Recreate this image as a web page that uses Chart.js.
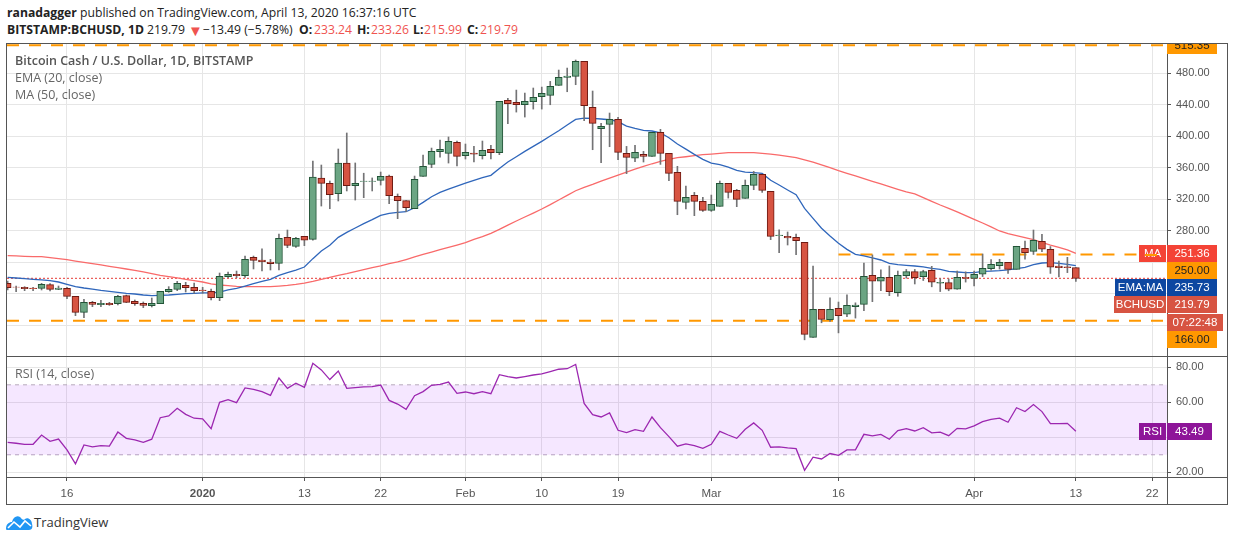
<!DOCTYPE html>
<html>
<head>
<meta charset="utf-8">
<title>BCHUSD</title>
<script src="https://cdn.jsdelivr.net/npm/chart.js@4/dist/chart.umd.min.js"></script>
<style>
  html, body { margin: 0; padding: 0; background: #fff; width: 1234px; height: 541px; overflow: hidden; }
  body { position: relative; font-family: "Open Sans", sans-serif; color: #131722; }
  canvas { position: absolute; }
  .abs { position: absolute; white-space: nowrap; }
  .head { font-size: 12.2px; line-height: 16px; color: #222; }
  .head b { font-weight: 700; }
  .red { color: #ef5350; }
  .frame { left: 6px; top: 43px; width: 1220px; height: 460px; border: 1px solid #555; }
  .rule { background: #555; }
  .pane-text { left: 15px; font-size: 12.5px; line-height: 16px; color: #666; }
  .tag { font-family: "Liberation Sans", Arial, sans-serif; font-size: 11.5px; line-height: 17px; height: 17px; text-align: center; overflow: hidden; color: #fff; }
</style>
</head>
<body>

<div class="abs head" style="left:7px;top:5px"><b>ranadagger</b> published on TradingView.com, April 13, 2020 16:37:16 UTC</div>
<div class="abs head" style="left:7px;top:22px"><b>BITSTAMP:BCHUSD, 1D</b></div>
<div class="abs head" style="left:147px;top:22px">219.79</div>
<div class="abs head red" style="left:188px;top:22px;font-size:15px">▼</div>
<div class="abs head" style="left:203px;top:22px">−13.49 (−5.78%)</div>
<div class="abs head" style="left:299px;top:22px"><b>O:</b></div>
<div class="abs head red" style="left:314px;top:22px">233.24</div>
<div class="abs head" style="left:357px;top:22px"><b>H:</b></div>
<div class="abs head red" style="left:371px;top:22px">233.26</div>
<div class="abs head" style="left:413px;top:22px"><b>L:</b></div>
<div class="abs head red" style="left:424px;top:22px">215.99</div>
<div class="abs head" style="left:467px;top:22px"><b>C:</b></div>
<div class="abs head red" style="left:480px;top:22px">219.79</div>

<canvas id="priceChart" width="1220" height="312" style="left:7px;top:44px"></canvas>
<canvas id="rsiChart" width="1220" height="147" style="left:7px;top:357px"></canvas>

<div class="abs frame"></div>
<div class="abs rule" style="left:7px;top:356px;width:1220px;height:1px"></div>
<div class="abs rule" style="left:7px;top:477px;width:1220px;height:1px"></div>
<div class="abs rule" style="left:1167px;top:44px;width:1px;height:460px"></div>

<div class="abs pane-text" style="top:53px;color:#555;font-weight:600">Bitcoin Cash / U.S. Dollar, 1D, BITSTAMP</div>
<div class="abs pane-text" style="top:70px">EMA (20, close)</div>
<div class="abs pane-text" style="top:87px">MA (50, close)</div>
<div class="abs pane-text" style="top:366px">RSI (14, close)</div>

<div class="abs tag" style="left:1167px;top:44px;width:50px;height:10px;line-height:2px;background:#ff9800;color:#222">515.35</div>

<div class="abs tag" style="left:1139px;top:245px;width:27px;background:#f44336">MA</div>
<div class="abs" style="left:1145px;top:254px;width:12px;height:2px;background:#ff9800"></div>
<div class="abs tag" style="left:1167px;top:245px;width:50px;background:#f44336">251.36</div>
<div class="abs tag" style="left:1167px;top:262px;width:50px;background:#ff9800;color:#222">250.00</div>
<div class="abs tag" style="left:1115px;top:279px;width:51px;background:#0d47a1">EMA:MA</div>
<div class="abs tag" style="left:1167px;top:279px;width:50px;background:#0d47a1">235.73</div>
<div class="abs tag" style="left:1114px;top:296px;width:52px;background:#d75442">BCHUSD</div>
<div class="abs tag" style="left:1167px;top:296px;width:50px;background:#d75442">219.79</div>
<div class="abs tag" style="left:1167px;top:314px;width:56px;background:#d75442">07:22:48</div>
<div class="abs tag" style="left:1167px;top:331px;width:50px;background:#ff9800;color:#222">166.00</div>
<div class="abs tag" style="left:1139px;top:423px;width:27px;background:#8e1599">RSI</div>
<div class="abs tag" style="left:1167px;top:423px;width:45px;background:#8e1599">43.49</div>

<svg class="abs" style="left:6px;top:514px" width="27" height="17" viewBox="0 0 27 17">
  <path d="M0 15 C0 10 3 8 6 8 C7 3 11 1 14 3 C16 5 17 7 19 5 C22 3 26 6 26 10 C27 13 26 16 23 16 L3 16 C1 16 0 16 0 15 Z" fill="#2196f3"/>
  <path d="M2 14 L8 8 L14 13 L19 7 L25 12" fill="none" stroke="#fff" stroke-width="1.6"/>
</svg>
<div class="abs" style="left:34px;top:514px;font-size:13px;line-height:17px;color:#333">TradingView</div>

<script>
// one value per day, 9 Dec 2019 is day 0, 13 Apr 2020 is day 126
const opens = [
  213.4,208.8,208.4,207.5,207.1,211.7,205.8,207.1,196.9,176.7,
  189.3,186.4,188.1,187.7,197.8,190.6,188.1,185.1,187.7,202.9,
  205.8,210.9,208.4,204.9,203.3,195.3,221.9,224.8,223.1,246.4,
  243,240.5,238.8,271.7,260.3,273,269.2,346.9,340.2,327,
  366,337.2,342.7,342.7,344,349.5,323.7,318.2,308,349,
  364.2,380.3,378.2,392.1,375.2,378.6,375.2,383.2,379,445.3,
  442.8,439.8,443.6,450,451.7,464.3,474.5,475.8,494.8,436.5,
  409.4,415,421.3,378.2,372,376.9,374.4,404.8,378.2,354.1,
  316,324.9,317.3,305.9,311,340.2,331.3,321.1,337.6,351.5,
  330.1,273.9,273,271.8,265.4,145,180.5,167.4,181.8,174.2,
  183.9,186.8,223.6,216,221,201.6,223.2,228.2,221.9,230,
  213.5,214.3,205.9,221,219.8,224.9,232,235.8,240.1,231.2,
  257.8,254,266.7,256.6,235.4,234.2,233.24
];
const closes = [
  207.9,208.5,206.7,206.7,212.2,205.8,207.5,196.9,176.7,189.3,
  186.8,188.1,186.4,196.9,189.3,187.7,185.5,188.1,203.3,205.8,
  213.4,207.9,204.1,204.1,195.3,222.3,224.8,223.1,243.8,242.6,
  240.9,238.4,270.5,261.6,270.5,268,348,340.2,325.8,366,
  337.2,340.2,343.1,343,349,324.5,318.2,309.3,345.2,361.7,
  380.7,383.2,393.4,374.4,379.4,377.3,382,379,444,441.1,
  439.8,444,449.1,454.2,463,474.5,476.2,494.8,438.6,416.2,
  412.4,421.3,379.4,373.1,379.4,374.4,404.8,378.2,352.8,317.3,
  322.4,317.3,305.9,313.5,340.2,328.7,319.9,337.6,351.5,331.3,
  273,274.7,270.9,267.5,148.8,180.5,167.8,180.5,172.5,185.6,
  186,222.3,216,221,202.9,223.6,228.2,220.6,228.2,214.8,
  214.8,205.9,221,219.8,224.9,232.5,237.5,240.1,231.2,260.4,
  252.3,268,256.6,233.8,233.3,233.3,219.79
];
const highs = [
  216.4,210,209.2,208.4,213.4,213,210,208.4,196.9,193.1,
  190.6,191.9,189.3,198.2,198.6,192.3,189.8,194.8,203.3,209.2,
  215.9,214.7,213.8,208.4,206.2,226.5,227.8,229,248,248,
  257,243.8,276,281,271.7,273,368.5,363.4,343.1,383.7,
  404,366,353,347,354.5,350.5,326.7,318.2,349.4,376,
  384.9,395,398.9,393.8,390,387,393.8,388.3,444,447.9,
  458.4,454.6,461,462.2,469.4,483.8,486.3,496.5,494.8,457.2,
  416.2,429.3,423.8,387,388.3,380.7,404.8,408.6,378.2,361.7,
  336.8,328.7,322.4,325.3,343.1,340.2,332.5,344.4,355.3,351.5,
  330.1,281.1,278.5,275.9,265.4,235.4,180.5,194.9,189.7,198.7,
  188.7,239.2,249.4,230.4,235.4,229,231,231,230,235,
  219.5,219,229,228,229,250.6,243.5,243.9,240.1,260.4,
  267,281,275.5,260,241.6,246.4,233.26
];
const lows = [
  205,202.9,204.1,204.1,205,203.7,205.4,194,172.4,169.9,
  183.8,183.8,185.5,186,188.9,185.5,182.6,183.4,187.7,202,
  204.1,202.4,200.8,200.8,192.3,191.4,220.6,220.6,221,231.6,
  229,230.3,230.3,258.6,259,261.2,268,311.4,308,317.8,
  330.5,319,322,330.5,338,314.4,295.4,304.2,308,349,
  360,373.5,365.9,362.1,371,367.2,371,371,376.5,415.8,
  430.5,424.2,434.3,434.3,439.8,464.3,456.3,465.2,419.6,382.8,
  366.3,386.6,370.1,352.4,367.6,367.2,374.4,364.2,343.5,300.4,
  307.6,299.2,304.6,304.6,311,321.5,310.6,321.1,332.1,328.7,
  268.8,252.3,262,249.8,141.8,145,163.4,165,150.6,171.2,
  169.4,178.8,190.2,204,197.8,197,220,212.6,217,209,
  203,204,205.9,215,210.1,222,230,231.5,226,231.2,
  244,250,253.5,226,221.5,227,215.99
];
const ema20 = [
  221,220.2,219.3,218.5,217.7,216.8,215.1,212.2,209.2,207.5,
  206.2,204.6,203.3,202,200.8,199.9,198.6,197.8,198.2,198.6,
  199.5,200.3,200.8,201.2,201.2,202.4,205,207.1,210,213,
  216,218.5,223.6,226.9,230.3,234.1,244.7,254.4,261.6,271.7,
  278,283.6,289,294.1,299.6,302.1,303.4,304.2,309.3,316,
  323.2,328.7,332.9,336.7,340.5,343.9,347.3,350.3,359.1,367.2,
  373.9,380.7,387,393.4,400.1,406.9,414.1,421.2,422.9,422.5,
  421.7,420.8,418.3,412.8,409.8,407.3,406.5,404.3,398,390,
  383.6,376.9,370.6,365.9,363.8,360.8,356.6,354.5,353.7,352.8,
  344,338,331.8,325.8,308.5,295.8,283.2,273.4,264.2,256.5,
  250.2,248.1,245.6,243,238.8,237.1,236.3,235.4,234.2,232.5,
  231.2,228.7,227.8,227,227,228.7,229,229.5,230.4,232,
  233.7,237.1,239.2,239.6,238.8,237.5,235.73
];
const ma50 = [
  248.5,248.1,247.7,247.2,247.2,246,244.7,243.4,241.7,240,
  238.4,236.7,235,233.3,231.6,229.9,227.8,225.7,223.6,221.9,
  220.2,218.5,216.8,215.1,212.6,211.3,210.5,209.6,209.2,209.2,
  209.2,209.2,210,210.9,212.2,213.8,216,218.5,221,223.6,
  225.7,228.2,230.7,233.3,235.4,238.4,240.5,243.6,246.8,250,
  253,256,259,262,265,269.2,272.5,276.8,281.8,287.3,
  292.4,297.5,302.5,307.6,313.1,319,324.9,330.8,335,338.9,
  343.1,346.9,350.7,354.5,358.3,361.7,365,368,370.5,372.7,
  373.9,375.2,376.5,377.3,378.1,379,379,379,379,378.1,
  377.3,376,374.4,372.7,370,367,363.5,360,356.3,352.9,
  349.5,346.1,342.7,339.4,336,332.6,329.2,326.7,322,317.4,
  312.7,308.5,303.9,299.2,294.6,289.9,284.9,279.8,276.4,273.9,
  271.3,268.8,265.4,262,259.1,255.7,251.36
];
const rsi14 = [
  37.1,36.6,36,36,41.3,37.7,39,32.8,24.8,35.6,
  34.5,35.2,35,43,39.4,38.5,37.1,38.9,51.2,52.2,
  56.6,53.1,50.9,50.5,44.9,60,61.5,59.8,68.2,67.4,
  66.1,64,73.9,68,70.9,68.6,82.3,78.5,73,77.9,
  68,68.4,68.8,69,69.9,61.1,59,56,63.8,66.1,
  69.7,70.3,71.6,65.1,65.9,64.9,66.1,64.9,75.8,74.7,
  73.9,74.7,75.6,76.2,77.5,78.9,79.2,81.7,59.4,52.9,
  51.6,53.9,44,42.7,44.4,43.4,51.6,45.5,40.4,34.9,
  36.2,35.2,33.7,36,43.4,41.3,39.4,44.6,48.2,44,
  34.3,34.5,33.9,33.5,21.1,28.6,27.6,30.7,29.7,32.8,
  32.8,41.7,40.8,41.7,38.9,43.8,44.9,43.6,45.5,42.5,
  42.9,40.9,45.1,44.8,46.5,48.9,50.3,51,48.6,56.9,
  54.7,58.7,54.7,47.8,47.8,48,43.49
];

const tickDays = [7, 23, 35, 44, 54, 63, 72, 83, 98, 114, 126, 135];
const tickLabels = ['16', '2020', '13', '22', 'Feb', '10', '19', 'Mar', '16', 'Apr', '13', '22'];
const priceTicks = [480, 440, 400, 360, 320, 280, 240, 200, 160];
const rsiTicks = [80, 60, 40, 20];
const topLevel = 515.35;
const bottomLevel = 166;
const midLevel = 250;
const midLevelStart = 98;
const lastClose = 219.79;
const rsiUpper = 70;
const rsiLower = 30;

// axis ranges
const dayMin = -0.077, dayMax = 136.75;
const priceMin = 121.3, priceMax = 516.8;
const rsiMin = 17.3, rsiMax = 85.9;

const GREEN = '#6ba583', GREEN_EDGE = '#225437';
const RED = '#d75442', RED_EDGE = '#6f1a12';
const WICK = '#737375';
const GRID = '#e6e6e6';
const AXIS_TEXT = '#555';
const ORANGE = '#ff9800';
const FONT = 'Liberation Sans';

const days = closes.map((c, i) => i);
const isUp = days.map(i => closes[i] >= opens[i]);
const levelLine = (level, from) => [{ x: from, y: level }, { x: dayMax, y: level }];
const dayLine = values => values.map((y, x) => ({ x, y }));

// tick labels at the edges must not push the plot area in
function noLabelPadding(axis) {
  axis.paddingTop = axis.paddingBottom = axis.paddingLeft = axis.paddingRight = 0;
}

function dayScale(showTicks) {
  return {
    type: 'linear',
    min: dayMin,
    max: dayMax,
    offset: false,
    afterBuildTicks: axis => { axis.ticks = tickDays.map(value => ({ value })); },
    afterFit: axis => { axis.height = showTicks ? 27 : 0; noLabelPadding(axis); },
    border: { display: false },
    grid: { offset: false, color: GRID, tickColor: '#555', tickLength: 4, drawTicks: showTicks },
    ticks: {
      display: showTicks,
      autoSkip: false,
      maxRotation: 0,
      padding: 6,
      color: AXIS_TEXT,
      font: c => ({ family: FONT, size: 11.5, weight: c.tick && c.tick.value === 23 ? 'bold' : 'normal' }),
      callback: value => tickLabels[tickDays.indexOf(value)]
    }
  };
}

function valueScale(min, max, tickValues) {
  return {
    position: 'right',
    min,
    max,
    afterBuildTicks: axis => { axis.ticks = tickValues.map(value => ({ value })); },
    afterFit: axis => { axis.width = 60; noLabelPadding(axis); },
    border: { display: false },
    grid: { color: GRID, tickColor: '#555', tickLength: 4 },
    ticks: {
      autoSkip: false,
      padding: 5,
      color: AXIS_TEXT,
      font: { family: FONT, size: 11 },
      callback: value => value.toFixed(2)
    }
  };
}

const baseOptions = {
  responsive: false,
  animation: false,
  events: [],
  layout: { padding: 0 },
  plugins: { legend: { display: false }, tooltip: { enabled: false } }
};

new Chart(document.getElementById('priceChart'), {
  type: 'bar',
  data: {
    datasets: [
      {
        label: 'body',
        order: 1,
        grouped: false,
        data: days.map(i => ({ x: i, y: [opens[i], closes[i]] })),
        backgroundColor: isUp.map(up => up ? GREEN : RED),
        borderColor: isUp.map(up => up ? GREEN_EDGE : RED_EDGE),
        borderWidth: 1,
        borderSkipped: false,
        barThickness: 7
      },
      {
        label: 'wick',
        order: 2,
        grouped: false,
        data: days.map(i => ({ x: i, y: [lows[i], highs[i]] })),
        backgroundColor: WICK,
        barThickness: 1
      },
      { type: 'line', label: 'EMA', order: 3, data: dayLine(ema20), borderColor: '#2f66bb', borderWidth: 1.3, pointRadius: 0 },
      { type: 'line', label: 'MA', order: 4, data: dayLine(ma50), borderColor: '#f96a6a', borderWidth: 1.3, pointRadius: 0 },
      { type: 'line', label: 'close', order: 5, data: levelLine(lastClose, dayMin), borderColor: '#e53935', borderWidth: 1, borderDash: [2, 2], pointRadius: 0 },
      { type: 'line', label: 'top', order: 6, data: levelLine(topLevel, dayMin), borderColor: ORANGE, borderWidth: 2, borderDash: [12, 10], pointRadius: 0 },
      { type: 'line', label: 'bottom', order: 6, data: levelLine(bottomLevel, dayMin), borderColor: ORANGE, borderWidth: 2, borderDash: [12, 10], pointRadius: 0 },
      { type: 'line', label: 'mid', order: 6, data: levelLine(midLevel, midLevelStart), borderColor: ORANGE, borderWidth: 2, borderDash: [12, 10], pointRadius: 0 }
    ]
  },
  options: {
    ...baseOptions,
    scales: { x: dayScale(false), y: valueScale(priceMin, priceMax, priceTicks) }
  }
});

new Chart(document.getElementById('rsiChart'), {
  type: 'line',
  data: {
    datasets: [
      { label: 'RSI', order: 1, data: dayLine(rsi14), borderColor: '#9c27b0', borderWidth: 1.3, pointRadius: 0 },
      {
        label: 'upper',
        order: 2,
        data: levelLine(rsiUpper, dayMin),
        borderColor: '#b5a9bb',
        borderWidth: 1,
        borderDash: [4, 4],
        pointRadius: 0,
        fill: { target: '+1' },
        backgroundColor: 'rgba(153, 21, 255, 0.1)'
      },
      { label: 'lower', order: 3, data: levelLine(rsiLower, dayMin), borderColor: '#b5a9bb', borderWidth: 1, borderDash: [4, 4], pointRadius: 0 }
    ]
  },
  options: {
    ...baseOptions,
    scales: { x: dayScale(true), y: valueScale(rsiMin, rsiMax, rsiTicks) }
  }
});
</script>
</body>
</html>
